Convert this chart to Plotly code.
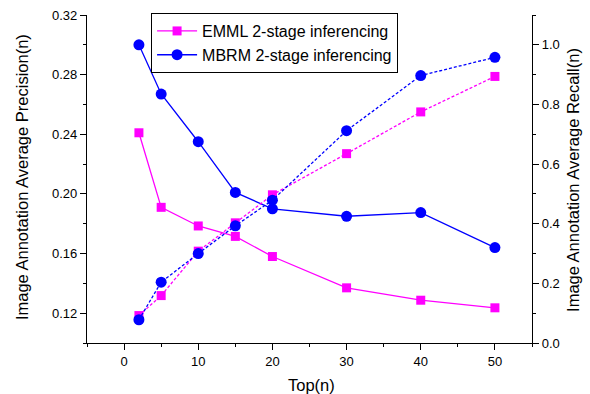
import plotly.graph_objects as go

top_n = [2, 5, 10, 15, 20, 30, 40, 50]
emml_precision = [0.241, 0.191, 0.1785, 0.1715, 0.158, 0.137, 0.1287, 0.1236]
mbrm_precision = [0.300, 0.267, 0.235, 0.201, 0.190, 0.185, 0.1875, 0.164]
emml_recall = [0.092, 0.159, 0.308, 0.403, 0.497, 0.635, 0.775, 0.894]
mbrm_recall = [0.078, 0.204, 0.300, 0.393, 0.479, 0.712, 0.897, 0.958]

x_ticks = [0, 10, 20, 30, 40, 50]
y_ticks = [0.12, 0.16, 0.20, 0.24, 0.28, 0.32]
y2_ticks = [0.0, 0.2, 0.4, 0.6, 0.8, 1.0]

MAG = "#FF00FF"
BLU = "#0000FF"
FAM = "Arial, 'Liberation Sans', sans-serif"

fig = go.Figure()
fig.add_trace(go.Scatter(x=top_n, y=emml_precision, mode="lines+markers",
                         name="EMML 2-stage inferencing",
                         line=dict(color=MAG, width=1.3),
                         marker=dict(symbol="square", size=9, color=MAG)))
fig.add_trace(go.Scatter(x=top_n, y=mbrm_precision, mode="lines+markers",
                         name="MBRM 2-stage inferencing",
                         line=dict(color=BLU, width=1.3),
                         marker=dict(symbol="circle", size=11, color=BLU)))
fig.add_trace(go.Scatter(x=top_n, y=emml_recall, mode="lines+markers", yaxis="y2",
                         showlegend=False,
                         line=dict(color=MAG, width=1.3, dash="3px,2px"),
                         marker=dict(symbol="square", size=9, color=MAG)))
fig.add_trace(go.Scatter(x=top_n, y=mbrm_recall, mode="lines+markers", yaxis="y2",
                         showlegend=False,
                         line=dict(color=BLU, width=1.3, dash="3px,2px"),
                         marker=dict(symbol="circle", size=11, color=BLU)))

axis_font = dict(family=FAM, size=13, color="black")
title_font = dict(family=FAM, size=16.5, color="black")

common = dict(ticks="outside", ticklen=6, tickwidth=1.3, tickcolor="black",
              showline=True, linecolor="black", linewidth=1.3, showgrid=False,
              zeroline=False, automargin=False, tickfont=axis_font)

fig.update_layout(
    width=590, height=394,
    margin=dict(l=87, r=58, t=15, b=51),
    paper_bgcolor="white", plot_bgcolor="white",
    font=axis_font,
    xaxis=dict(range=[-5, 55], tickvals=x_ticks,
               minor=dict(tickvals=[-5, 5, 15, 25, 35, 45, 55], ticks="outside", ticklen=3, tickcolor="black"),
               **common),
    yaxis=dict(range=[0.10, 0.32], tickvals=y_ticks, tickformat=".2f",
               minor=dict(tickvals=[0.10, 0.14, 0.18, 0.22, 0.26, 0.30], ticks="outside", ticklen=3, tickcolor="black"),
               **common),
    yaxis2=dict(range=[0, 1.1], tickvals=y2_ticks, tickformat=".1f",
                overlaying="y", side="right",
                minor=dict(tickvals=[0.1, 0.3, 0.5, 0.7, 0.9, 1.1], ticks="outside", ticklen=3, tickcolor="black"),
                **common),
    legend=dict(x=0.144, y=1.006, xanchor="left", yanchor="top",
                bordercolor="black", borderwidth=1, bgcolor="white",
                font=dict(family=FAM, size=16, color="black"),
                tracegroupgap=0, itemwidth=40),
    annotations=[
        dict(text="Top(n)", xref="paper", yref="paper", x=0.505, y=-0.128,
             xanchor="center", yanchor="middle", showarrow=False, font=title_font),
        dict(text="Image Annotation Average Precision(n)", xref="paper", yref="paper",
             x=-0.146, y=0.506, textangle=-90, xanchor="center", yanchor="middle",
             showarrow=False, font=title_font),
        dict(text="Image Annotation Average Recall(n)", xref="paper", yref="paper",
             x=1.092, y=0.497, textangle=-90, xanchor="center", yanchor="middle",
             showarrow=False, font=title_font),
    ],
)

fig.write_html("out.html", config={"displayModeBar": False},
               post_script="document.body.style.margin='0';document.body.style.padding='0';")
